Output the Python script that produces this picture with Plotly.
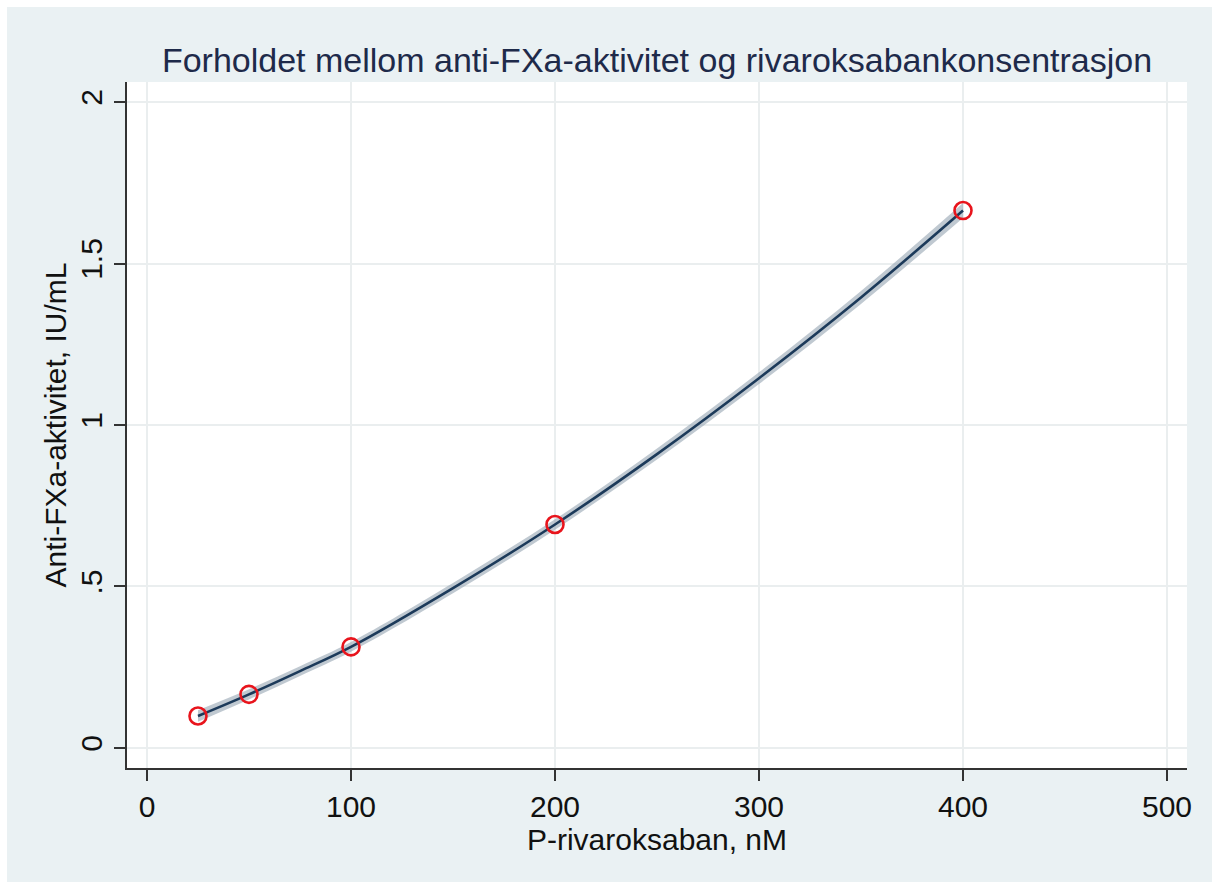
import plotly.graph_objects as go

# Measured values
conc_nm = [25, 50, 100, 200, 400]
anti_fxa = [0.099, 0.166, 0.313, 0.692, 1.664]

# Fitted curve with its confidence band
fit_x = [25, 50, 75, 100, 150, 200, 250, 300, 350, 400]
fit_y = [0.099, 0.166, 0.238, 0.313, 0.495, 0.692, 0.910, 1.145, 1.395, 1.664]
fit_lo = [0.081, 0.150, 0.223, 0.298, 0.479, 0.676, 0.893, 1.127, 1.375, 1.641]
fit_hi = [0.117, 0.182, 0.253, 0.328, 0.511, 0.708, 0.927, 1.163, 1.415, 1.687]

x_ticks = [0, 100, 200, 300, 400, 500]
y_ticks = [0, 0.5, 1, 1.5, 2]
y_tick_text = ["0", ".5", "1", "1.5", "2"]

FONT = "Liberation Sans, Arial, sans-serif"
BG = "#EAF1F3"
L, R, T, B = 127, 25, 82, 114
W, H = 1212, 882
PW, PH = W - L - R, H - T - B

fig = go.Figure()

fig.add_trace(go.Scatter(
    x=fit_x, y=fit_hi, mode="lines", line=dict(width=0, shape="spline"),
    showlegend=False, hoverinfo="skip"))
fig.add_trace(go.Scatter(
    x=fit_x, y=fit_lo, mode="lines", line=dict(width=0, shape="spline"),
    fill="tonexty", fillcolor="rgba(150,165,178,0.6)",
    showlegend=False, hoverinfo="skip"))
fig.add_trace(go.Scatter(
    x=fit_x, y=fit_y, mode="lines",
    line=dict(color="#1c3a5a", width=2.6, shape="spline"),
    showlegend=False))
fig.add_trace(go.Scatter(
    x=conc_nm, y=anti_fxa, mode="markers",
    marker=dict(symbol="circle-open", size=17, color="#e8141c",
                line=dict(width=2.6, color="#e8141c")),
    showlegend=False))

# Thin white frame along the top and left edges of the page
fig.add_shape(type="rect", xref="paper", yref="paper",
              x0=-L / PW - 0.01, x1=(7 - L) / PW, y0=-0.3, y1=1.3,
              fillcolor="white", line=dict(width=0), layer="below")
fig.add_shape(type="rect", xref="paper", yref="paper",
              x0=-0.3, x1=1.3, y0=(H - B - 7) / PH, y1=(H - B) / PH + 0.01,
              fillcolor="white", line=dict(width=0), layer="below")

fig.update_layout(
    width=W, height=H,
    margin=dict(l=L, r=R, t=T, b=B),
    paper_bgcolor=BG,
    plot_bgcolor="white",
    font=dict(family=FONT, color="#111111"),
    title=dict(
        text="Forholdet mellom anti-FXa-aktivitet og rivaroksabankonsentrasjon",
        x=(L + PW / 2) / W, xanchor="center",
        y=1 - 60 / H, yanchor="middle",
        font=dict(family=FONT, size=34, color="#1e2a4a")),
    xaxis=dict(
        range=[-9.8, 509.8], tickvals=x_ticks,
        ticks="outside", ticklen=11, tickwidth=2, tickcolor="#333333",
        showline=True, linecolor="#333333", linewidth=2,
        showgrid=True, gridcolor="#EAEEEF", gridwidth=2, zeroline=False,
        tickfont=dict(size=30, family=FONT, color="#111111"),
        title=dict(text="P-rivaroksaban, nM", standoff=0,
                   font=dict(size=30, family=FONT, color="#111111"))),
    yaxis=dict(
        range=[-0.062, 2.062], tickvals=y_ticks, ticktext=y_tick_text,
        tickangle=-90,
        ticks="outside", ticklen=11, tickwidth=2, tickcolor="#333333",
        showline=True, linecolor="#333333", linewidth=2,
        showgrid=True, gridcolor="#EAEEEF", gridwidth=2, zeroline=False,
        tickfont=dict(size=30, family=FONT, color="#111111"),
        title=dict(text="Anti-FXa-aktivitet, IU/mL", standoff=0,
                   font=dict(size=30, family=FONT, color="#111111"))),
)

fig.write_html("out.html")
